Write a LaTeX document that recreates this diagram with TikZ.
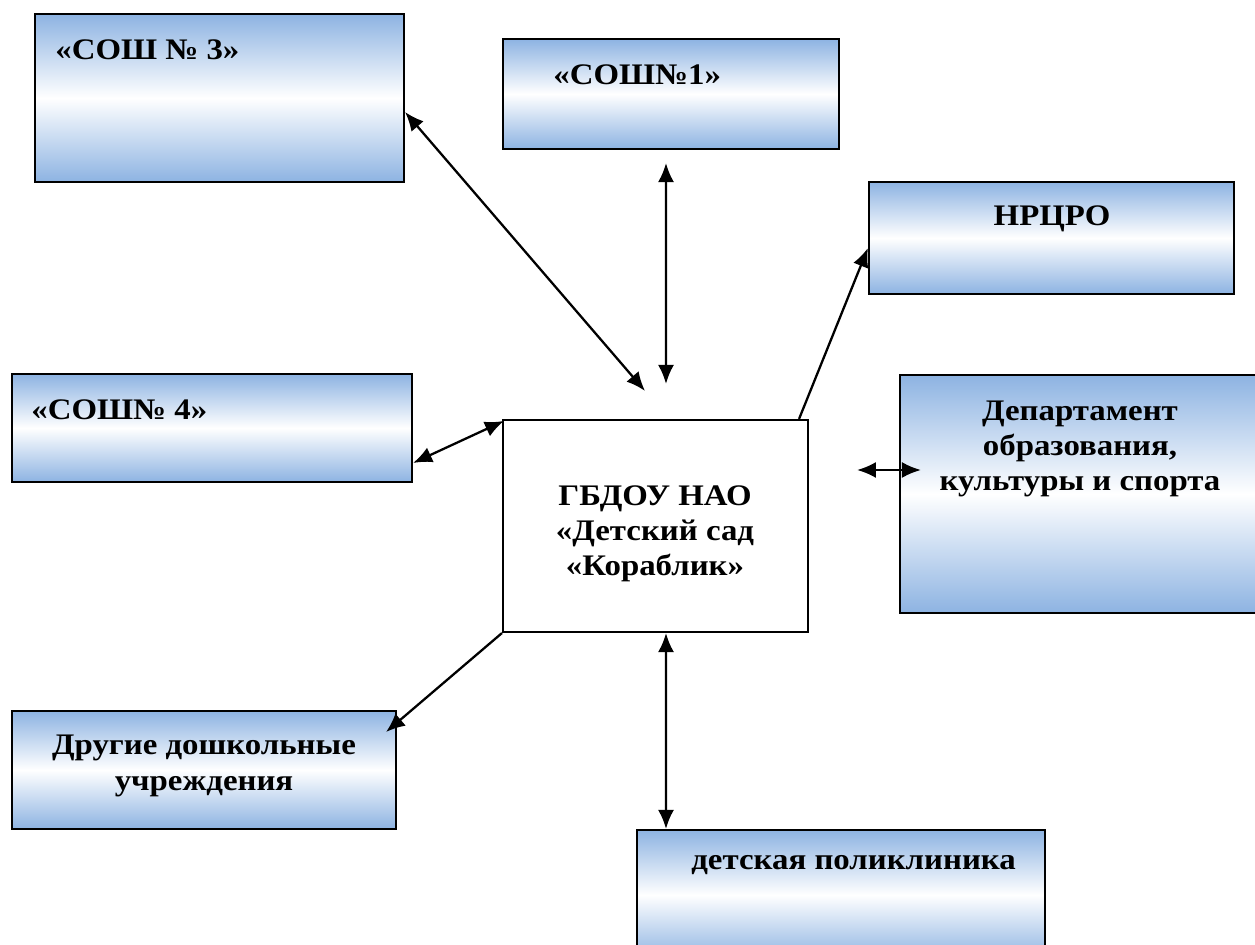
\documentclass[tikz,border=0pt]{standalone}
\usepackage{fontspec}
\setmainfont{Liberation Serif}
\newfontfamily\boxfont[FakeStretch=1.1]{Liberation Serif}
\usetikzlibrary{arrows.meta,fit}
\definecolor{boxblue}{RGB}{141,179,226}

\begin{document}
\begin{tikzpicture}[x=0.02cm,y=-0.02cm,
    partner/.style={draw=black, line width=1.2pt, top color=boxblue, bottom color=boxblue, middle color=white, inner sep=0pt},
    mainbox/.style={draw=black, line width=1.2pt, fill=white, inner sep=0pt},
    lbl/.style={font=\boxfont\bfseries\fontsize{17pt}{20pt}\selectfont, align=center, inner sep=0pt},
    link/.style={line width=1.3pt, {Latex[length=3.8mm,width=3.2mm]}-{Latex[length=3.8mm,width=3.2mm]}},
    oneway/.style={line width=1.3pt, -{Latex[length=3.8mm,width=3.2mm]}}]
            \useasboundingbox (0,0) rectangle (1255,945);

            \node[partner, fit={(35,14) (404,182)}] (sosh3) {};
            \node[partner, fit={(503,39) (839,149)}] (sosh1) {};
            \node[partner, fit={(869,182) (1234,294)}] (nrcro) {};
            \node[partner, fit={(12,374) (412,482)}] (sosh4) {};
            \node[partner, fit={(900,375) (1265,613)}] (dept) {};
            \node[partner, fit={(12,711) (396,829)}] (other) {};
            \node[partner, fit={(637,830) (1045,960)}] (clinic) {};
            \node[mainbox, fit={(503,420) (808,632)}] (kindergarten) {};

            \node[lbl, anchor=west] (sosh3-t) at (55,50) {«СОШ № 3»};
            \node[lbl, anchor=west] (sosh1-t) at (553,75) {«СОШ№1»};
            \node[lbl] (nrcro-t) at (1052,219) {НРЦРО};
            \node[lbl, anchor=west] (sosh4-t) at (31,410) {«СОШ№ 4»};
            \node[lbl] (dept-t) at (1080,449) {Департамент\\образования,\\культуры и спорта};
            \node[lbl] (kindergarten-t) at (655,534) {ГБДОУ НАО\\«Детский сад\\«Кораблик»};
            \node[lbl] (other-t) at (204,766) {Другие дошкольные\\учреждения};
            \node[lbl, anchor=west] (clinic-t) at (691,865) {детская поликлиника};

            \draw[link] ([shift={(0,14)}]sosh3.east) -- ([shift={(-10.5,-28)}]kindergarten.north);
            \draw[link] ([shift={(-5,13)}]sosh1.south) -- ([shift={(10.5,-35)}]kindergarten.north);
            \draw[oneway] ([shift={(-10,0)}]kindergarten.north east) -- ([shift={(0,10)}]nrcro.west);
            \draw[link] ([shift={(0,35)}]sosh4.east) -- ([shift={(2,2)}]kindergarten.north west);
            \draw[link] ([shift={(-42,-24)}]dept.west) -- ([shift={(22,-24)}]dept.west);
            \draw[oneway] (kindergarten.south west) -- ([shift={(-11,-38)}]other.east);
            \draw[link] ([shift={(10.5,0)}]kindergarten.south) -- ([shift={(-175,0)}]clinic.north);
        \end{tikzpicture}
\end{document}
